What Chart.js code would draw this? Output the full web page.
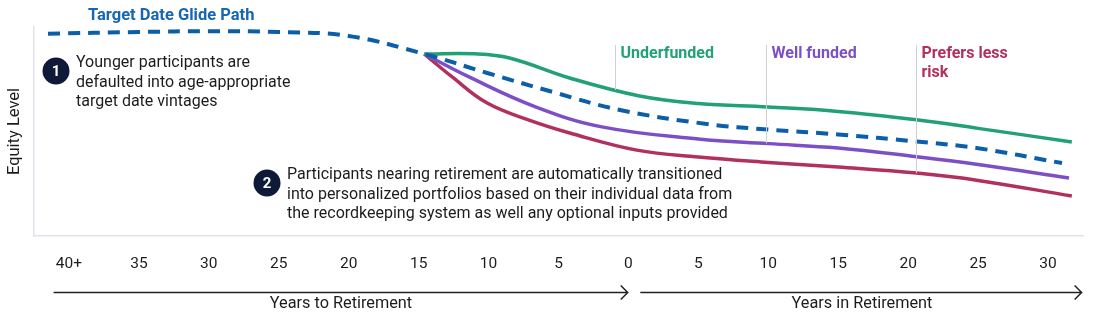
<!DOCTYPE html>
<html>
<head>
<meta charset="utf-8">
<script src="https://cdn.jsdelivr.net/npm/chart.js@4.4.1/dist/chart.umd.min.js"></script>
<style>
  html, body { margin: 0; padding: 0; background: #fff; }
  #wrap { width: 1100px; height: 326px; }
</style>
</head>
<body>
<div id="wrap"><canvas id="glide" width="1100" height="326"></canvas></div>
<script>
// x = years relative to retirement (negative = before), y = equity level (0-100)
const tickValues = [-40, -35, -30, -25, -20, -15, -10, -5, 0, 5, 10, 15, 20, 25, 30];
const tickLabels = ['40+', '35', '30', '25', '20', '15', '10', '5', '0', '5', '10', '15', '20', '25', '30'];

const glideYears = [-41.5, -35, -30, -25, -20, -14.6, -10.1, -5.4, -0.6, 5.6, 10, 15, 20.6, 25, 31];
const glideEquity = [96.8, 97.6, 98, 97.6, 95.7, 87.1, 78, 68.9, 60.3, 53.6, 50.9, 48.6, 45.2, 42, 34.9];

const underYears = [-14.6, -11, -8.5, -4.2, 0.8, 5, 10, 15, 20.6, 25, 31.7];
const underEquity = [87.1, 87.2, 85.2, 75.6, 67, 63.4, 61.7, 59.6, 55.6, 51.5, 45];

const wellYears = [-14.6, -11.4, -6.6, -1.9, 5, 10, 15, 20.6, 25, 31.5];
const wellEquity = [87.1, 76.1, 61.7, 52.2, 46.4, 44.2, 42.1, 37.9, 34.2, 27.8];

const lessRiskYears = [-14.6, -12.6, -10.1, -7, -4.2, 0.6, 5, 10, 15, 20.6, 25, 31.7];
const lessRiskEquity = [87.1, 76.1, 63.6, 55.2, 49.3, 41.1, 37.8, 35.2, 33, 30.1, 26.6, 19.1];

// callout markers: label, x (years), top and bottom of the thin line (equity)
const markerNames = ['Underfunded', 'Well funded', ['Prefers less', 'risk']];
const markerYears = [-0.95, 9.85, 20.55];
const markerTop = [91.4, 91.4, 91.4];
const markerBottom = [69.9, 44.3, 30.1];

// arrows under the axis (years)
const arrowFrom = [-41.1, 0.85];
const arrowTo = [-0.05, 32.4];
const arrowTitles = ['Years to Retirement', 'Years in Retirement'];

const GREEN = '#22a078', PURPLE = '#7d4fc6', RED = '#b2305f', BLUE = '#0b5ea8';
const FONT = 'Roboto, "Noto Sans", sans-serif';

function pts(xs, ys) { return xs.map((x, i) => ({ x: x, y: ys[i] })); }

const overlay = {
    id: 'overlay',
    afterDraw(chart) {
        const ctx = chart.ctx, xs = chart.scales.x, ys = chart.scales.y;
        ctx.save();

        // title of the dashed line
        ctx.fillStyle = '#1666b2';
        ctx.font = 'bold 16.5px ' + FONT;
        ctx.textBaseline = 'middle';
        ctx.fillText('Target Date Glide Path', 88, 16);

        // callout lines + labels
        const colors = [GREEN, PURPLE, RED];
        markerYears.forEach((yr, i) => {
            const px = Math.round(xs.getPixelForValue(yr)) + 0.5;
            const top = ys.getPixelForValue(markerTop[i]);
            ctx.strokeStyle = '#d0d0d0';
            ctx.lineWidth = 1;
            ctx.beginPath();
            ctx.moveTo(px, top);
            ctx.lineTo(px, ys.getPixelForValue(markerBottom[i]));
            ctx.stroke();
            ctx.fillStyle = colors[i];
            ctx.font = 'bold 16px ' + FONT;
            const lines = [].concat(markerNames[i]);
            lines.forEach((t, j) => ctx.fillText(t, px + 5, top + 9 + j * 19));
        });

        // numbered notes
        function note(num, cx, cy, lines) {
            ctx.fillStyle = '#0e1a38';
            ctx.beginPath();
            ctx.arc(cx, cy, 13.5, 0, Math.PI * 2);
            ctx.fill();
            ctx.fillStyle = '#fff';
            ctx.font = 'bold 15px ' + FONT;
            ctx.textAlign = 'center';
            ctx.fillText(num, cx, cy + 1);
            ctx.textAlign = 'left';
            ctx.fillStyle = '#1c1c1c';
            ctx.font = '16px ' + FONT;
            lines.forEach((t, j) => ctx.fillText(t, cx + 20, cy - 8 + j * 19.5));
        }
        note('1', 56, 71, ['Younger participants are', 'defaulted into age-appropriate', 'target date vintages']);
        note('2', 267, 183, ['Participants nearing retirement are automatically transitioned',
            'into personalized portfolios based on their individual data from',
            'the recordkeeping system as well any optional inputs provided']);

        // arrows and their titles
        const ay = 292.5;
        ctx.strokeStyle = '#222';
        ctx.fillStyle = '#1c1c1c';
        ctx.lineWidth = 1.5;
        ctx.font = '16.3px ' + FONT;
        ctx.textAlign = 'center';
        arrowFrom.forEach((a, i) => {
            const x0 = xs.getPixelForValue(a), x1 = xs.getPixelForValue(arrowTo[i]);
            ctx.beginPath();
            ctx.moveTo(x0, ay);
            ctx.lineTo(x1, ay);
            ctx.moveTo(x1 - 7, ay - 7);
            ctx.lineTo(x1, ay);
            ctx.lineTo(x1 - 7, ay + 7);
            ctx.stroke();
        });
        ctx.fillText(arrowTitles[0], 341, 304);
        ctx.fillText(arrowTitles[1], 862, 304);
        ctx.restore();
    }
};

new Chart(document.getElementById('glide'), {
    type: 'line',
    data: {
        datasets: [
            { label: 'Target Date Glide Path', data: pts(glideYears, glideEquity), borderColor: BLUE, borderWidth: 4, borderDash: [12, 8] },
            { label: 'Underfunded', data: pts(underYears, underEquity), borderColor: GREEN, borderWidth: 3.5 },
            { label: 'Well funded', data: pts(wellYears, wellEquity), borderColor: PURPLE, borderWidth: 3.5 },
            { label: 'Prefers less risk', data: pts(lessRiskYears, lessRiskEquity), borderColor: RED, borderWidth: 3.5 }
        ]
    },
    options: {
        responsive: false,
        animation: false,
        layout: { padding: { top: 27, right: 17, left: 0, bottom: 0 } },
        elements: {
            point: { radius: 0 },
            line: { tension: 0.4, fill: false, borderCapStyle: 'butt' }
        },
        plugins: { legend: { display: false }, tooltip: { enabled: false } },
        scales: {
            x: {
                type: 'linear',
                min: -42.5,
                max: 32.5,
                afterBuildTicks: s => { s.ticks = tickValues.map(v => ({ value: v })); },
                afterFit: s => { s.height = 90; },
                grid: { display: false, drawTicks: false },
                border: { display: true, color: '#e0e4ea', width: 1.5 },
                ticks: {
                    padding: 19,
                    color: '#1c1c1c',
                    font: { family: FONT, size: 15.5 },
                    maxRotation: 0,
                    autoSkip: false,
                    callback: (v) => tickLabels[tickValues.indexOf(v)]
                }
            },
            y: {
                min: 0,
                max: 100,
                afterFit: s => { s.width = 34; },
                grid: { display: false, drawTicks: false },
                border: { display: true, color: '#e0e4ea', width: 1.5 },
                ticks: { display: false },
                title: { display: true, text: 'Equity Level', color: '#1c1c1c', font: { family: FONT, size: 16.5 }, padding: { top: 5, bottom: 0 } }
            }
        }
    },
    plugins: [overlay]
});
</script>
</body>
</html>
